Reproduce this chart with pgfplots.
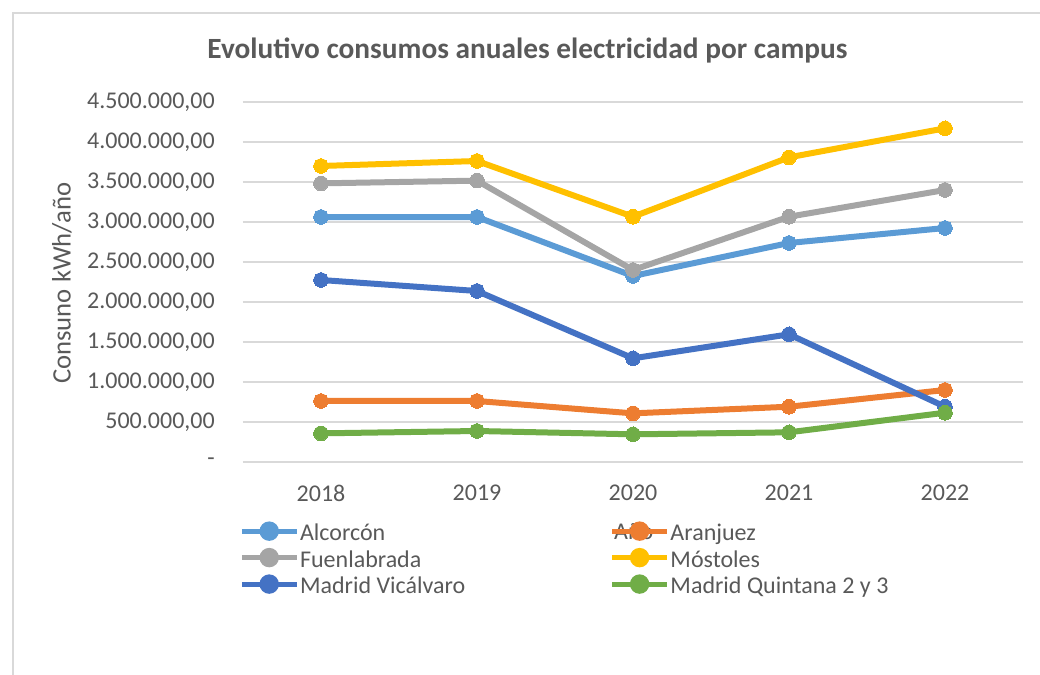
\documentclass[border=0pt]{standalone}
\usepackage{pgfplots}
\pgfplotsset{compat=1.18}
\usepackage{fontspec}
\setmainfont{Carlito}
\definecolor{cA}{HTML}{5B9BD5}
\definecolor{cB}{HTML}{ED7D31}
\definecolor{cC}{HTML}{A5A5A5}
\definecolor{cD}{HTML}{FFC000}
\definecolor{cE}{HTML}{4472C4}
\definecolor{cF}{HTML}{70AD47}
\definecolor{txt}{HTML}{595959}
\definecolor{gridc}{HTML}{D9D9D9}
\newcommand{\lgent}[1]{\makebox[233pt][l]{\hspace{0.75pt}\rule[-4.5pt]{0pt}{20.25pt}#1}}
\begin{document}
\begin{tikzpicture}
\path[use as bounding box] (0,0) rectangle (780pt,506.25pt);
\draw[gridc, line width=1pt] (9.75pt,0) -- (9.75pt,496.5pt) -- (780pt,496.5pt);
\begin{axis}[
  at={(182.25pt,159.75pt)}, anchor=south west,
  scale only axis, width=585pt, height=270pt,
  xmin=2017.5, xmax=2022.5, ymin=0, ymax=4500000,
  scaled y ticks=false, scaled x ticks=false,
  xtick={2018,2019,2020,2021,2022},
  xticklabels={2018,2019,2020,2021,2022},
  ytick={0,500000,1000000,1500000,2000000,2500000,3000000,3500000,4000000,4500000},
  yticklabels={{-},{500.000,00},{1.000.000,00},{1.500.000,00},{2.000.000,00},{2.500.000,00},{3.000.000,00},{3.500.000,00},{4.000.000,00},{4.500.000,00}},
  major tick length=0pt,
  axis line style={draw=none},
  ymajorgrids, xmajorgrids=false, grid style={gridc, line width=1.1pt},
  ticklabel style={font=\fontsize{18}{21}\selectfont, text=txt},
  yticklabel style={anchor=east, inner sep=0pt, xshift=-21pt},
  xticklabel style={anchor=north, inner sep=0pt, yshift=-17pt},
  title={\textbf{Evolutivo consumos anuales electricidad por campus}},
  title style={font=\fontsize{22}{26}\selectfont, text=txt, at={(axis description cs:0.3647,1.122)}, anchor=center},
  ylabel={Consuno kWh/año},
  ylabel style={font=\fontsize{20}{24}\selectfont, text=txt, at={(axis description cs:-0.232,0.497)}, anchor=center},
  xlabel={Año},
  xlabel style={font=\fontsize{18}{22}\selectfont, text=txt, at={(axis description cs:0.501,-0.192)}, anchor=center},
  legend columns=2,
  legend style={at={(axis description cs:-0.005,-0.1594)}, anchor=north west, draw=none, fill=none,
    font=\fontsize{18}{21}\selectfont, text=txt, column sep=0pt, row sep=2.6pt, inner sep=0pt,
    nodes={inner sep=0pt}},
  legend cell align=left,
  legend image code/.code={\draw[#1, mark=none, line width=3.8pt] (0pt,0pt) -- (41pt,0pt); \fill[#1] (20.5pt,0pt) circle (5pt);},
  every axis plot/.append style={line width=4.5pt, mark=*, mark size=5.5pt},
  clip=false,
]
\addplot[cA, mark options={fill=cA, draw=cA, line width=0pt}] coordinates {(2018,3062500)(2019,3062500)(2020,2325000)(2021,2737500)(2022,2925000)};
\addlegendentry{\lgent{Alcorcón}}
\addplot[cB, mark options={fill=cB, draw=cB, line width=0pt}] coordinates {(2018,762500)(2019,762500)(2020,608000)(2021,691000)(2022,900000)};
\addlegendentry{\lgent{Aranjuez}}
\addplot[cC, mark options={fill=cC, draw=cC, line width=0pt}] coordinates {(2018,3483000)(2019,3517000)(2020,2400000)(2021,3066000)(2022,3400000)};
\addlegendentry{\lgent{Fuenlabrada}}
\addplot[cD, mark options={fill=cD, draw=cD, line width=0pt}] coordinates {(2018,3700000)(2019,3762500)(2020,3066000)(2021,3808000)(2022,4171000)};
\addlegendentry{\lgent{Móstoles}}
\addplot[cE, mark options={fill=cE, draw=cE, line width=0pt}] coordinates {(2018,2275000)(2019,2137500)(2020,1296000)(2021,1596000)(2022,691000)};
\addlegendentry{\lgent{Madrid Vicálvaro}}
\addplot[cF, mark options={fill=cF, draw=cF, line width=0pt}] coordinates {(2018,358000)(2019,387500)(2020,346000)(2021,371000)(2022,616000)};
\addlegendentry{\lgent{Madrid Quintana 2 y 3}}
\end{axis}
\end{tikzpicture}
\end{document}
